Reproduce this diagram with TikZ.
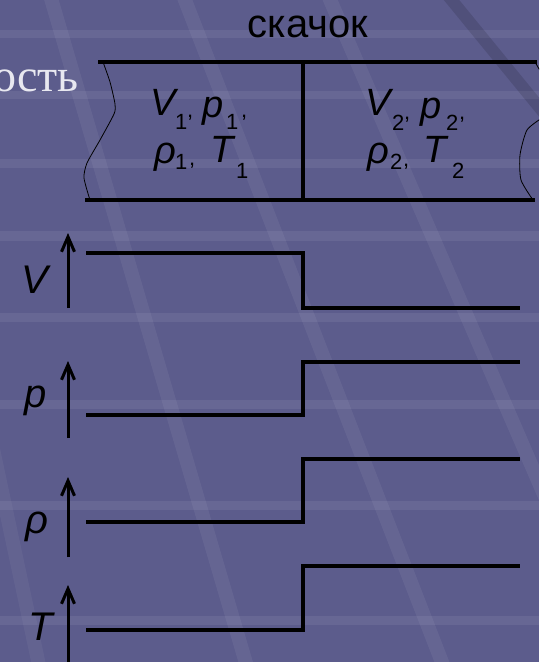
\documentclass[tikz,border=0pt]{standalone}
\usepackage{fontspec}
\setmainfont{Liberation Sans}
\newfontfamily\serifru{Liberation Serif}
\usetikzlibrary{arrows.meta}
\definecolor{bg}{RGB}{92,92,140}
\definecolor{lighttext}{RGB}{232,232,240}
\begin{document}
\begin{tikzpicture}[x=1pt,y=-1pt,
  sym/.style={inner sep=0pt, anchor=base west, font=\fontsize{38}{38}\selectfont\itshape},
  subs/.style={inner sep=0pt, anchor=base west, font=\fontsize{22}{22}\selectfont},
  axlbl/.style={inner sep=0pt, anchor=base west, font=\fontsize{40}{40}\selectfont\itshape},
  heavy/.style={line width=3.2pt, line cap=rect},
  axisarrow/.style={line width=3pt, -{Straight Barb[length=15pt,width=13pt]}},
  thinedge/.style={line width=0.8pt},
  band/.style={white, opacity=0.07},
  ray/.style={white, opacity=0.06, line width=14pt}]
\useasboundingbox (0,0) rectangle (539,662);
\clip (0,0) rectangle (539,662);
% background
\fill[bg] (0,0) rectangle (539,662);
\foreach \y/\h in {30/8, 91/8, 159/9, 231/10, 313/9, 400/9, 501/9, 616/9}
  \fill[band] (0,\y) rectangle (539,\y+\h);
\draw[ray] (50,-5) -- (248,670);
\draw[ray] (183,-5) -- (445,670);
\draw[ray] (328,-5) -- (620,670);
\draw[ray, opacity=0.045] (-60,200) -- (40,670);
\draw[black, opacity=0.12, line width=12pt] (445,-8) -- (548,118);

% titles
\node[inner sep=0pt, anchor=base, font=\fontsize{40}{40}\selectfont] (jump) at (308,37) {скачок};
\node[inner sep=0pt, anchor=base east, text=lighttext, font=\serifru\fontsize{46}{46}\selectfont] (surf) at (79,91) {ость};

% tube
\coordinate (tl) at (100,62);
\coordinate (tr) at (535,62);
\coordinate (bl) at (87,200);
\coordinate (br) at (533,200);
\coordinate (dt) at (303,62);
\coordinate (db) at (303,200);
\draw[heavy] (tl) -- (tr);
\draw[heavy] (bl) -- (br);
\draw[heavy] (dt) -- (db);
\draw[thinedge] plot[smooth, tension=0.4] coordinates {(103,62) (110,82) (115,104) (114,114) (100,140) (87,163) (84,178) (90,200)};
\draw[thinedge] (tr) -- (542,74);
\draw[thinedge] plot[smooth, tension=0.4] coordinates {(542,118) (527,130) (520,155) (521,180) (533,200)};

% left state labels
\node[sym]  (V1)  at (150,115) {V};
\node[subs] (V1s) at (175,129) {1};
\node[subs] (c1)  at (187,117) {,};
\node[sym]  (p1)  at (202,117) {p};
\node[subs] (p1s) at (226,129) {1};
\node[subs] (c2)  at (241,117) {,};
\node[sym]  (r1)  at (154,163) {ρ};
\node[subs] (r1s) at (175,169) {1};
\node[subs] (c3)  at (189,165) {,};
\node[sym]  (T1)  at (210,162) {T};
\node[subs] (T1s) at (236,178) {1};

% right state labels
\node[sym]  (V2)  at (365,115) {V};
\node[subs] (V2s) at (392,130) {2};
\node[subs] (c4)  at (404,119) {,};
\node[sym]  (p2)  at (420,118) {p};
\node[subs] (p2s) at (446,130) {2};
\node[subs] (c5)  at (459,119) {,};
\node[sym]  (r2)  at (367,163) {ρ};
\node[subs] (r2s) at (390,169) {2};
\node[subs] (c6)  at (403,166) {,};
\node[sym]  (T2)  at (423,162) {T};
\node[subs] (T2s) at (452,178) {2};

% axes
\coordinate (aV0) at (68,308); \coordinate (aV1) at (68,233);
\coordinate (ap0) at (68,438); \coordinate (ap1) at (68,361);
\coordinate (ar0) at (68,557); \coordinate (ar1) at (68,477);
\coordinate (aT0) at (68,670); \coordinate (aT1) at (68,585);
\draw[axisarrow] (aV0) -- (aV1);
\draw[axisarrow] (ap0) -- (ap1);
\draw[axisarrow] (ar0) -- (ar1);
\draw[axisarrow] (aT0) -- (aT1);
\node[axlbl] (lV) at (21,293) {V};
\node[axlbl] (lp) at (24,407) {p};
\node[axlbl] (lr) at (25,533) {ρ};
\node[axlbl] (lT) at (28,640) {T};

% step profiles
\draw[heavy] (88,253) -- (303,253) -- (303,308) -- (518,308);
\draw[heavy] (88,415) -- (303,415) -- (303,362) -- (518,362);
\draw[heavy] (88,522) -- (303,522) -- (303,459) -- (518,459);
\draw[heavy] (88,630) -- (303,630) -- (303,566) -- (518,566);
\end{tikzpicture}
\end{document}
